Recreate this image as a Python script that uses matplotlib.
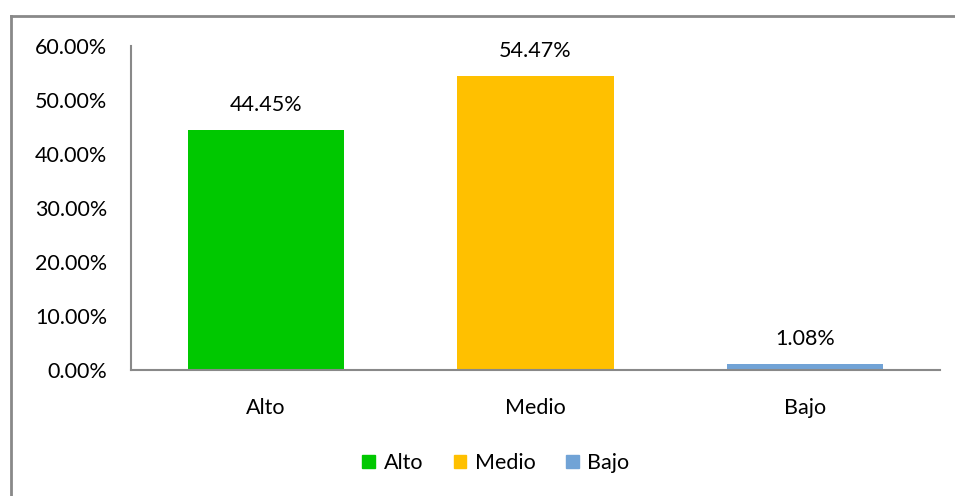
import matplotlib.pyplot as plt
from matplotlib.patches import Patch
from matplotlib.lines import Line2D
from matplotlib.ticker import FuncFormatter

categories = ['Alto', 'Medio', 'Bajo']
values = [44.45, 54.47, 1.08]
colors = ['#00C800', '#FFC000', '#71A3D6']
yticks = [0, 10, 20, 30, 40, 50, 60]

plt.rcParams['font.family'] = ['Lato', 'DejaVu Sans']
fs = 15.5

fig = plt.figure(figsize=(9.55, 4.96), dpi=100)
ax = fig.add_axes([131 / 955, 1 - 370 / 496, (940 - 131) / 955, (370 - 46) / 496])

x = range(len(categories))
bars = ax.bar(x, values, width=0.58, color=colors)
for b, v in zip(bars, values):
    ax.text(b.get_x() + b.get_width() / 2, v + 2.8, f'{v:.2f}%',
            ha='center', va='bottom', fontsize=fs)

ax.set_xlim(-0.5, 2.5)
ax.set_ylim(0, 60)
ax.set_yticks(yticks)
ax.yaxis.set_major_formatter(FuncFormatter(lambda v, p: f'{v:.2f}%'))
ax.set_xticks(list(x))
ax.set_xticklabels(categories)
ax.tick_params(axis='both', length=0, labelsize=fs)
ax.tick_params(axis='y', pad=17)
ax.tick_params(axis='x', pad=20)
for s in ['top', 'right']:
    ax.spines[s].set_visible(False)
for s in ['left', 'bottom']:
    ax.spines[s].set_color('#898989')
    ax.spines[s].set_linewidth(1.5)

handles = [Patch(color=c, label=l) for c, l in zip(colors, categories)]
fig.legend(handles=handles, loc='center', bbox_to_anchor=(496 / 955, 1 - 463 / 496),
           ncol=3, frameon=False, fontsize=fs, handlelength=0.6, handleheight=0.6,
           handletextpad=0.4, columnspacing=1.4)

# chart area border (only top and left visible in the crop)
fig.add_artist(Line2D([11 / 955, 1], [1 - 16 / 496, 1 - 16 / 496], color='#898989', lw=2))
fig.add_artist(Line2D([11 / 955, 11 / 955], [0, 1 - 16 / 496], color='#898989', lw=2))

fig.savefig('out.png', dpi=100)
